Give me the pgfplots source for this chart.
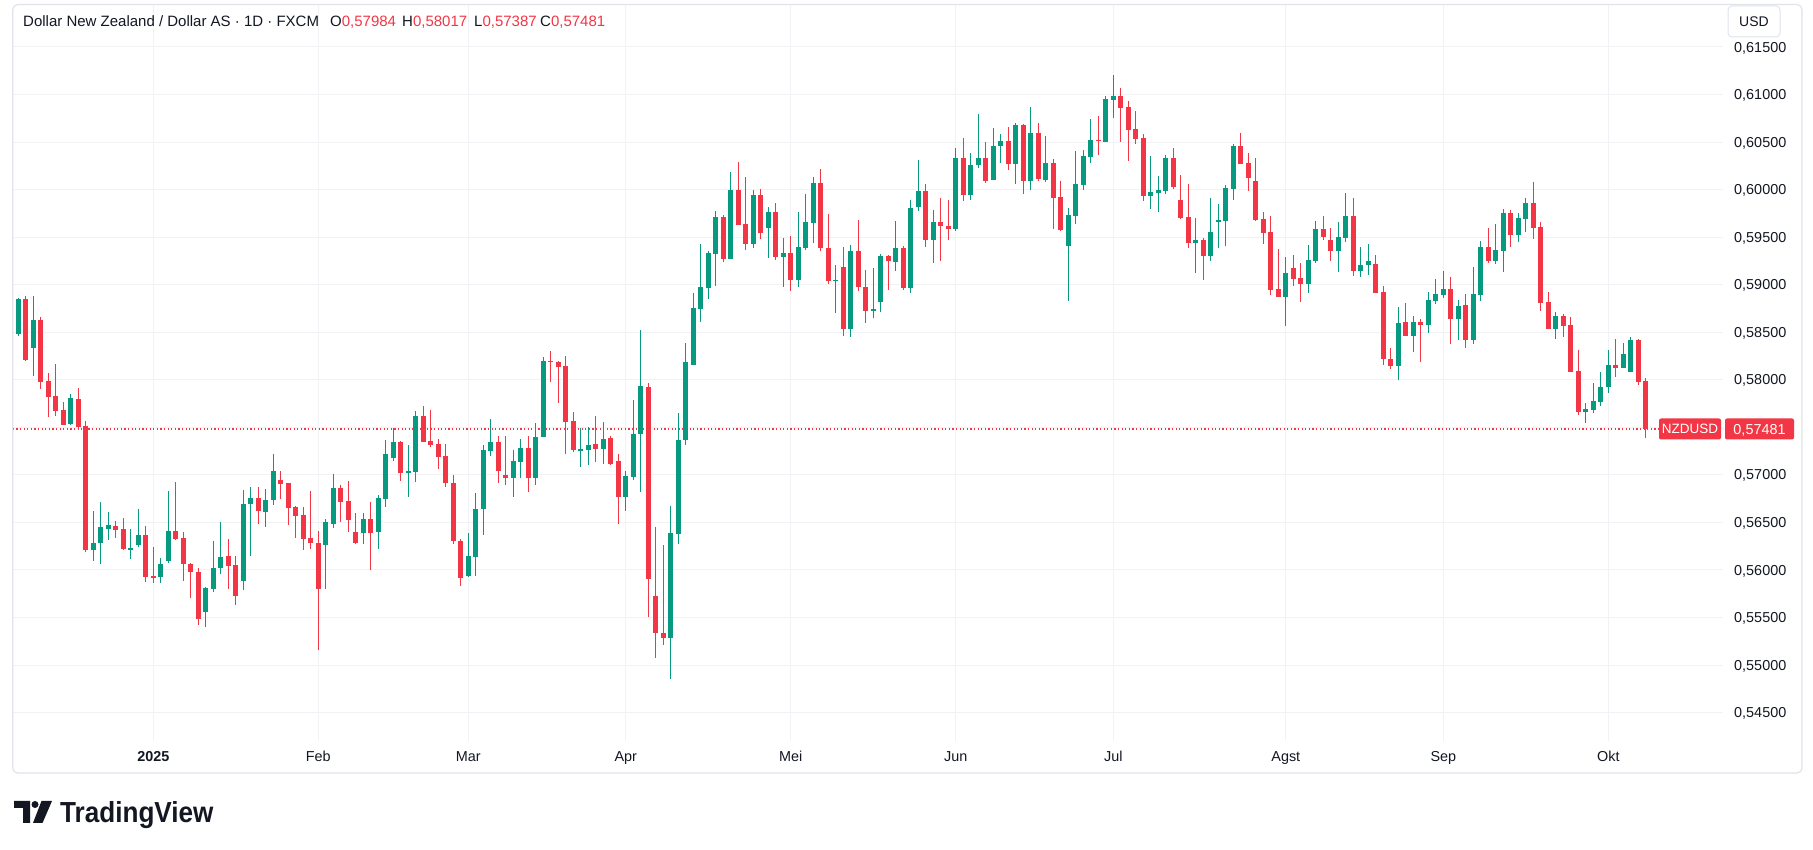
\documentclass[border=0pt]{standalone}
\usepackage{fontspec}
\setmainfont{Liberation Sans}
\usepackage{graphicx}
\usepackage{pgfplots}
\pgfplotsset{compat=1.18}
\usepackage{pgfplotstable}
\definecolor{tvgreen}{HTML}{089981}
\definecolor{tvred}{HTML}{F23645}
\definecolor{tvtext}{HTML}{131722}
\definecolor{tvgrid}{HTML}{F0F2F5}
\definecolor{tvframe}{HTML}{E0E3EB}

\pgfplotstableread{
i o h l c
0 0.58480 0.58863 0.58459 0.58845
2 0.58333 0.58877 0.58039 0.58624
7 0.57534 0.57856 0.57530 0.57804
10 0.56209 0.56615 0.56090 0.56289
11 0.56282 0.56720 0.56060 0.56457
12 0.56426 0.56605 0.56314 0.56468
15 0.56219 0.56426 0.56120 0.56226
16 0.56261 0.56636 0.56240 0.56373
19 0.55925 0.56131 0.55862 0.56068
20 0.56093 0.56836 0.56072 0.56415
25 0.55563 0.55826 0.55406 0.55816
26 0.55805 0.56300 0.55774 0.56026
27 0.56016 0.56499 0.55953 0.56142
30 0.55889 0.56836 0.55784 0.56699
31 0.56689 0.56878 0.56152 0.56752
33 0.56615 0.56847 0.56457 0.56741
34 0.56731 0.57225 0.56689 0.57036
41 0.56268 0.56542 0.55805 0.56500
42 0.56489 0.57015 0.56447 0.56868
46 0.56384 0.56605 0.56279 0.56531
48 0.56395 0.56784 0.56216 0.56752
49 0.56742 0.57373 0.56668 0.57215
50 0.57173 0.57488 0.57141 0.57341
52 0.57025 0.57310 0.56763 0.57040
53 0.57029 0.57667 0.56924 0.57615
60 0.55932 0.56394 0.55921 0.56152
61 0.56142 0.56810 0.55942 0.56647
62 0.56636 0.57309 0.56363 0.57257
63 0.57250 0.57593 0.57197 0.57341
66 0.56966 0.57257 0.56770 0.57141
67 0.57134 0.57372 0.56966 0.57278
69 0.56966 0.57541 0.56892 0.57393
70 0.57397 0.58245 0.57397 0.58193
75 0.57261 0.57489 0.57082 0.57268
76 0.57261 0.57499 0.57103 0.57320
78 0.57271 0.57552 0.57113 0.57383
81 0.56766 0.57036 0.56619 0.56983
82 0.56980 0.57790 0.56943 0.57429
83 0.57425 0.58521 0.56815 0.57929
87 0.55289 0.56677 0.54851 0.56392
88 0.56381 0.57648 0.56275 0.57371
89 0.57363 0.58390 0.57316 0.58189
90 0.58156 0.58915 0.58156 0.58751
91 0.58747 0.59427 0.58609 0.58974
92 0.58964 0.59360 0.58849 0.59329
93 0.59322 0.59771 0.58985 0.59708
95 0.59269 0.60181 0.59269 0.59992
98 0.59427 0.59992 0.59385 0.59939
100 0.59598 0.59814 0.59281 0.59770
102 0.59292 0.59489 0.58977 0.59332
104 0.59050 0.59763 0.58977 0.59394
105 0.59391 0.59956 0.59370 0.59661
106 0.59654 0.60135 0.59433 0.60072
109 0.59044 0.59209 0.58707 0.59054
111 0.58539 0.59419 0.58454 0.59356
114 0.58720 0.59177 0.58654 0.58748
115 0.58823 0.59324 0.58717 0.59303
117 0.59244 0.59672 0.59149 0.59388
119 0.58970 0.59893 0.58917 0.59809
120 0.59812 0.60314 0.59781 0.59988
122 0.59465 0.59788 0.59233 0.59661
125 0.59581 0.60440 0.59560 0.60335
127 0.59939 0.60388 0.59896 0.60261
128 0.60254 0.60798 0.60223 0.60335
130 0.60096 0.60651 0.60096 0.60461
131 0.60454 0.60588 0.60275 0.60514
133 0.60265 0.60704 0.60054 0.60682
135 0.60086 0.60872 0.59991 0.60598
137 0.60103 0.60562 0.60082 0.60278
140 0.59410 0.59805 0.58832 0.59732
141 0.59725 0.60404 0.59641 0.60058
142 0.60051 0.60415 0.60000 0.60352
143 0.60345 0.60741 0.60282 0.60520
145 0.60503 0.60982 0.60503 0.60951
146 0.60944 0.61203 0.60755 0.60982
151 0.59935 0.60352 0.59799 0.59974
152 0.59967 0.60142 0.59767 0.59995
153 0.59988 0.60362 0.59956 0.60331
157 0.59441 0.59704 0.59126 0.59473
159 0.59305 0.59914 0.59252 0.59557
160 0.59672 0.59851 0.59389 0.59679
161 0.59672 0.60047 0.59410 0.60016
162 0.60009 0.60478 0.59893 0.60457
169 0.58874 0.59294 0.58563 0.59126
172 0.59007 0.59416 0.58912 0.59257
173 0.59247 0.59669 0.59229 0.59585
176 0.59352 0.59658 0.59130 0.59500
177 0.59489 0.59965 0.59447 0.59722
179 0.59141 0.59394 0.59078 0.59204
180 0.59204 0.59426 0.59099 0.59247
184 0.58141 0.58761 0.57993 0.58602
186 0.58458 0.58676 0.58289 0.58602
188 0.58574 0.58919 0.58490 0.58835
189 0.58828 0.59056 0.58796 0.58898
190 0.58891 0.59141 0.58859 0.58951
192 0.58637 0.58835 0.58416 0.58782
194 0.58417 0.59182 0.58375 0.58898
195 0.58891 0.59456 0.58828 0.59393
197 0.59249 0.59635 0.59218 0.59361
198 0.59351 0.59793 0.59133 0.59751
200 0.59519 0.59751 0.59446 0.59698
201 0.59688 0.59909 0.59551 0.59856
205 0.58533 0.58709 0.58428 0.58667
209 0.57660 0.57754 0.57544 0.57688
210 0.57681 0.57961 0.57649 0.57772
211 0.57765 0.58077 0.57723 0.57930
212 0.57923 0.58309 0.57860 0.58161
214 0.58123 0.58386 0.58123 0.58267
215 0.58081 0.58449 0.58081 0.58414
}\upcandles

\pgfplotstableread{
i o h l c
1 0.58845 0.58877 0.58200 0.58207
3 0.58624 0.58656 0.57902 0.57976
4 0.57983 0.58077 0.57607 0.57818
5 0.57825 0.58161 0.57618 0.57671
6 0.57678 0.57772 0.57520 0.57523
8 0.57804 0.57919 0.57492 0.57509
9 0.57520 0.57572 0.56188 0.56209
13 0.56468 0.56510 0.56335 0.56419
14 0.56426 0.56542 0.56209 0.56219
17 0.56373 0.56458 0.55872 0.55925
18 0.55932 0.56237 0.55862 0.55925
21 0.56415 0.56920 0.56310 0.56321
22 0.56331 0.56405 0.55890 0.56058
23 0.56068 0.56079 0.55711 0.55974
24 0.55984 0.56016 0.55416 0.55490
28 0.56142 0.56321 0.55805 0.56047
29 0.56058 0.56142 0.55626 0.55732
32 0.56752 0.56868 0.56478 0.56615
35 0.56941 0.57047 0.56752 0.56899
36 0.56910 0.56915 0.56468 0.56647
37 0.56658 0.56668 0.56331 0.56563
38 0.56573 0.56668 0.56216 0.56321
39 0.56331 0.56826 0.56226 0.56279
40 0.56279 0.56405 0.55153 0.55805
43 0.56868 0.56899 0.56510 0.56721
44 0.56731 0.56941 0.56395 0.56521
45 0.56395 0.56600 0.56275 0.56279
47 0.56531 0.56710 0.55995 0.56394
51 0.57341 0.57352 0.56931 0.57015
54 0.57615 0.57720 0.57344 0.57344
55 0.57351 0.57688 0.57292 0.57313
56 0.57320 0.57372 0.57060 0.57187
57 0.57194 0.57320 0.56871 0.56913
58 0.56920 0.57004 0.56279 0.56300
59 0.56310 0.56321 0.55837 0.55921
64 0.57341 0.57404 0.56913 0.57039
65 0.57004 0.57414 0.56892 0.56966
68 0.57278 0.57414 0.56819 0.56966
71 0.58197 0.58302 0.57976 0.58190
72 0.58183 0.58193 0.57755 0.58134
73 0.58141 0.58246 0.57219 0.57555
74 0.57562 0.57667 0.57240 0.57261
77 0.57320 0.57618 0.57135 0.57271
79 0.57383 0.57404 0.57103 0.57113
80 0.57141 0.57215 0.56482 0.56766
84 0.57929 0.57966 0.55508 0.55910
85 0.55727 0.56450 0.55070 0.55333
86 0.55336 0.56268 0.55209 0.55289
94 0.59708 0.59729 0.59238 0.59269
96 0.59992 0.60286 0.59627 0.59627
97 0.59634 0.60128 0.59364 0.59427
99 0.59939 0.60002 0.59480 0.59543
101 0.59770 0.59858 0.59262 0.59292
103 0.59332 0.59511 0.58934 0.59050
107 0.60072 0.60219 0.59349 0.59381
108 0.59388 0.59746 0.59012 0.59044
110 0.59188 0.59398 0.58465 0.58539
112 0.59356 0.59682 0.58928 0.58970
113 0.58977 0.59156 0.58602 0.58720
116 0.59303 0.59314 0.58939 0.59244
118 0.59388 0.59409 0.58939 0.58970
121 0.59988 0.60061 0.59402 0.59465
123 0.59661 0.59914 0.59254 0.59612
124 0.59619 0.59893 0.59475 0.59581
126 0.60335 0.60546 0.59875 0.59939
129 0.60335 0.60504 0.60065 0.60096
132 0.60514 0.60661 0.60212 0.60265
134 0.60682 0.60693 0.59949 0.60096
136 0.60598 0.60704 0.60096 0.60107
138 0.60278 0.60320 0.59588 0.59914
139 0.59925 0.60089 0.59567 0.59578
144 0.60520 0.60772 0.60366 0.60513
147 0.60982 0.61067 0.60503 0.60860
148 0.60867 0.60930 0.60303 0.60629
149 0.60636 0.60825 0.60482 0.60534
150 0.60541 0.60583 0.59883 0.59935
154 0.60331 0.60436 0.60009 0.60030
155 0.59890 0.60152 0.59693 0.59704
156 0.59711 0.60058 0.59389 0.59441
158 0.59473 0.59494 0.59052 0.59305
163 0.60457 0.60594 0.60271 0.60271
164 0.60278 0.60390 0.59988 0.60124
165 0.60089 0.60331 0.59672 0.59683
166 0.59690 0.59763 0.59431 0.59546
167 0.59557 0.59721 0.58895 0.58947
168 0.58958 0.59378 0.58874 0.58874
170 0.59173 0.59310 0.58986 0.59060
171 0.59067 0.59225 0.58817 0.59007
174 0.59585 0.59722 0.59468 0.59500
175 0.59468 0.59595 0.59247 0.59352
178 0.59722 0.59912 0.59088 0.59141
181 0.59215 0.59310 0.58909 0.58909
182 0.58920 0.58982 0.58152 0.58215
183 0.58222 0.58331 0.58109 0.58141
185 0.58613 0.58803 0.58458 0.58458
187 0.58602 0.58644 0.58183 0.58574
191 0.58951 0.59078 0.58373 0.58637
193 0.58782 0.58898 0.58331 0.58416
196 0.59393 0.59593 0.59228 0.59249
199 0.59751 0.59782 0.59393 0.59519
202 0.59856 0.60077 0.59477 0.59593
203 0.59603 0.59656 0.58723 0.58807
204 0.58817 0.58923 0.58533 0.58533
206 0.58667 0.58698 0.58449 0.58565
207 0.58572 0.58656 0.58081 0.58081
208 0.58088 0.58312 0.57628 0.57660
213 0.58161 0.58428 0.58028 0.58123
216 0.58414 0.58428 0.57944 0.57975
217 0.57984 0.58017 0.57387 0.57481
}\downcandles

\begin{document}
\begin{tikzpicture}
\path[use as bounding box, fill=white] (0pt,0pt) rectangle (1813pt,849pt);
\begin{axis}[
  at={(12.7pt,108pt)}, anchor=south west, scale only axis,
  width=1710.3pt, height=736.4pt,
  xmin=-0.7467, xmax=227.29, ymin=0.54201, ymax=0.61945,
  axis line style={draw=none},
  major tick length=0pt,
  xtick={18,40,60,81,103,125,146,169,190,212},
  xticklabels={\textbf{2025},Feb,Mar,Apr,Mei,Jun,Jul,Agst,Sep,Okt},
  ytick={0.545,0.55,0.555,0.56,0.565,0.57,0.575,0.58,0.585,0.59,0.595,0.6,0.605,0.61,0.615},
  yticklabels={{0,54500},{0,55000},{0,55500},{0,56000},{0,56500},{0,57000},{},{0,58000},{0,58500},{0,59000},{0,59500},{0,60000},{0,60500},{0,61000},{0,61500}},
  yticklabel pos=right,
  scaled y ticks=false,
  grid=major,
  major grid style={draw=tvgrid, line width=1pt},
  ticklabel style={font=\fontsize{14.4}{16}\selectfont, text=tvtext, inner sep=0pt},
  xticklabel style={anchor=base, yshift=-21pt},
  yticklabel style={anchor=base west, xshift=11pt, yshift=-5.1pt},
  clip=true,
]
\addplot[tvred, line width=1.2pt, dash pattern=on 1.2pt off 2.4pt, forget plot]
  coordinates {(-0.7467,0.57481) (227.29,0.57481)};

\addplot[draw=none, mark=none, forget plot,
  error bars/.cd, y dir=both, y explicit, error mark=none,
  error bar style={draw=tvgreen, line width=1.1pt}]
  table[x=i, y expr={(\thisrow{h}+\thisrow{l})/2}, y error expr={(\thisrow{h}-\thisrow{l})/2}] {\upcandles};
\addplot[draw=none, mark=none, forget plot,
  error bars/.cd, y dir=both, y explicit, error mark=none,
  error bar style={draw=tvgreen, line width=5pt}]
  table[x=i, y expr={(\thisrow{o}+\thisrow{c})/2}, y error expr={abs(\thisrow{c}-\thisrow{o})/2}] {\upcandles};

\addplot[draw=none, mark=none, forget plot,
  error bars/.cd, y dir=both, y explicit, error mark=none,
  error bar style={draw=tvred, line width=1.1pt}]
  table[x=i, y expr={(\thisrow{h}+\thisrow{l})/2}, y error expr={(\thisrow{h}-\thisrow{l})/2}] {\downcandles};
\addplot[draw=none, mark=none, forget plot,
  error bars/.cd, y dir=both, y explicit, error mark=none,
  error bar style={draw=tvred, line width=5pt}]
  table[x=i, y expr={(\thisrow{o}+\thisrow{c})/2}, y error expr={abs(\thisrow{c}-\thisrow{o})/2}] {\downcandles};
\end{axis}

% frame
\draw[tvframe, line width=1.2pt, rounded corners=5pt] (12.7pt,76pt) rectangle (1802pt,844.4pt);

% legend
\begin{scope}[every node/.style={anchor=base west, inner sep=0pt, text=tvtext, font=\fontsize{15}{18}\selectfont}]
\node at (23pt,822.6pt) {Dollar New Zealand / Dollar AS · 1D · FXCM};
\node at (330pt,822.6pt) {O\textcolor{tvred}{0,57984}};
\node at (402pt,822.6pt) {H\textcolor{tvred}{0,58017}};
\node at (474pt,822.6pt) {L\textcolor{tvred}{0,57387}};
\node at (540pt,822.6pt) {C\textcolor{tvred}{0,57481}};
\end{scope}

% USD button
\draw[tvframe, line width=1pt, rounded corners=4pt] (1728pt,812pt) rectangle (1780pt,843pt);
\node[anchor=base, inner sep=0pt, text=tvtext, font=\fontsize{14}{16}\selectfont] at (1754pt,822.5pt) {USD};

% last price labels
\fill[tvred, rounded corners=2pt] (1659pt,409.5pt) rectangle (1721pt,430.5pt);
\node[anchor=base, inner sep=0pt, text=white, font=\fontsize{13.5}{16}\selectfont] at (1690pt,415pt) {NZDUSD};
\fill[tvred, rounded corners=2pt] (1725pt,409.5pt) rectangle (1794pt,430.5pt);
\node[anchor=base, inner sep=0pt, text=white, font=\fontsize{14.4}{16}\selectfont] at (1759.5pt,414.8pt) {0,57481};

% TradingView logo
\fill[tvtext] (14pt,48pt) -- (30pt,48pt) -- (30pt,26pt) -- (23pt,26pt) -- (23pt,41pt) -- (14pt,41pt) -- cycle;
\fill[tvtext] (35pt,44.5pt) circle (3.5pt);
\fill[tvtext] (41.5pt,48pt) -- (52pt,48pt) -- (42.5pt,26pt) -- (33pt,26pt) -- cycle;
\node[anchor=base west, inner sep=0pt, text=tvtext] at (60pt,27pt) {\scalebox{0.9}[1]{\fontsize{29}{30}\selectfont\bfseries TradingView}};
\end{tikzpicture}
\end{document}
